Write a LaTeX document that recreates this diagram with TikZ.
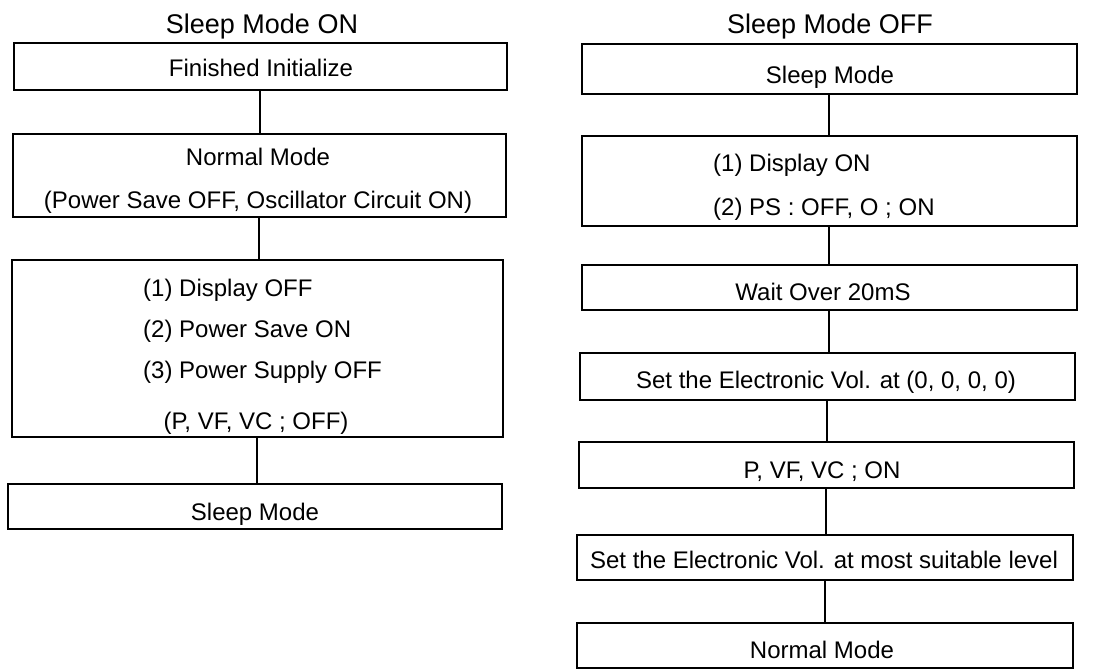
\documentclass[tikz,border=0pt]{standalone}
\usepackage{fontspec}
\setmainfont{Liberation Sans}
\begin{document}
\begin{tikzpicture}[x=1pt,y=-1pt,
  box/.style={draw=black, line width=2pt, inner sep=0pt},
  txt/.style={inner sep=0pt, anchor=base, font=\fontsize{24}{28}\selectfont},
  txl/.style={txt, anchor=base west},
  ttl/.style={inner sep=0pt, anchor=base, font=\fontsize{27}{32}\selectfont},
  conn/.style={line width=2pt}]
\useasboundingbox (0,0) rectangle (1116,670);
% ---------------- left column ----------------
\node[ttl] (t1) at (262,33) {Sleep Mode ON};
\node[box, minimum width=493pt, minimum height=47pt] (a1) at (260,66) {};
\node[box, minimum width=493pt, minimum height=83pt] (a2) at (259,175) {};
\node[box, minimum width=491pt, minimum height=177pt] (a3) at (257,348) {};
\node[box, minimum width=494pt, minimum height=45pt] (a4) at (255,506) {};
\node[txt] (a1t) at (261,76) {Finished Initialize};
\node[txt] (a2t1) at (258,165) {Normal Mode};
\node[txt] (a2t2) at (258,208) {(Power Save OFF, Oscillator Circuit ON)};
\node[txl] (a3t1) at (143,296) {(1) Display OFF};
\node[txl] (a3t2) at (143,337) {(2) Power Save ON};
\node[txl] (a3t3) at (143,378) {(3) Power Supply OFF};
\node[txt] (a3t4) at (256,429) {(P, VF, VC ; OFF)};
\node[txt] (a4t) at (255,520) {Sleep Mode};
\draw[conn] (a1.south) -- (a1.south |- a2.north);
\draw[conn] (a2.south) -- (a2.south |- a3.north);
\draw[conn] (a3.south) -- (a3.south |- a4.north);
% ---------------- right column ----------------
\node[ttl] (t2) at (830,33) {Sleep Mode OFF};
\node[box, minimum width=495pt, minimum height=50pt] (b1) at (829,69) {};
\node[box, minimum width=495pt, minimum height=90pt] (b2) at (829,181) {};
\node[box, minimum width=495pt, minimum height=45pt] (b3) at (829,287.5) {};
\node[box, minimum width=495pt, minimum height=47pt] (b4) at (827,376.5) {};
\node[box, minimum width=495pt, minimum height=46pt] (b5) at (826,465) {};
\node[box, minimum width=496pt, minimum height=45pt] (b6) at (825,557.5) {};
\node[box, minimum width=496pt, minimum height=45pt] (b7) at (825,645) {};
\node[txt] (b1t) at (830,83) {Sleep Mode};
\node[txl] (b2t1) at (713,171) {(1) Display ON};
\node[txl] (b2t2) at (713,215) {(2) PS : OFF, O ; ON};
\node[txt] (b3t) at (823,300) {Wait Over 20mS};
\node[txt] (b4t) at (826,388) {Set the Electronic Vol. at (0, 0, 0, 0)};
\node[txt] (b5t) at (822,478) {P, VF, VC ; ON};
\node[txt] (b6t) at (824,568) {Set the Electronic Vol. at most suitable level};
\node[txt] (b7t) at (822,658) {Normal Mode};
\draw[conn] (b1.south) -- (b1.south |- b2.north);
\draw[conn] (b2.south) -- (b2.south |- b3.north);
\draw[conn] (b3.south) -- (b3.south |- b4.north);
\draw[conn] (b4.south) -- (b4.south |- b5.north);
\draw[conn] (b5.south) -- (b5.south |- b6.north);
\draw[conn] (b6.south) -- (b6.south |- b7.north);
\end{tikzpicture}
\end{document}
